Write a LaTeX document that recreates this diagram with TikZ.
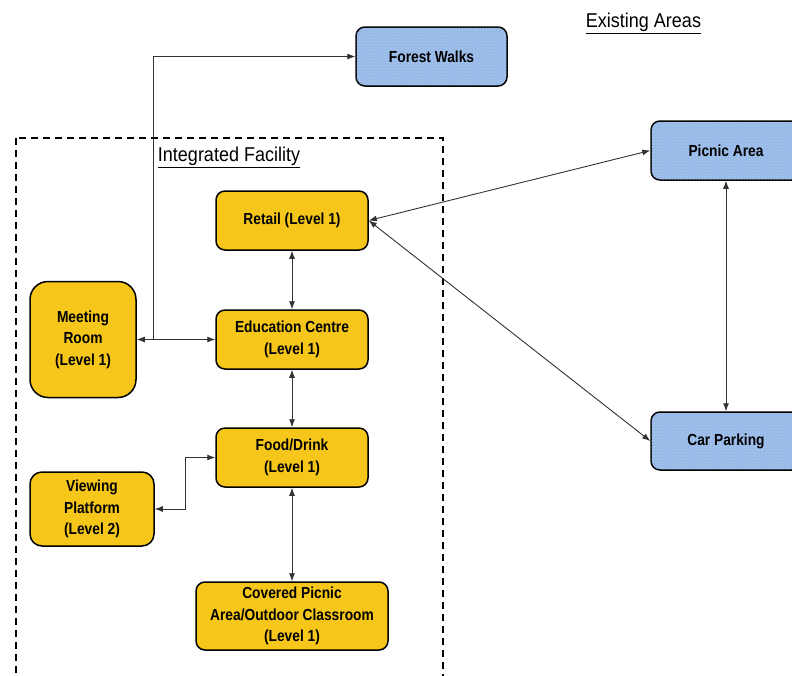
\documentclass[tikz,border=0pt]{standalone}
\usepackage{fontspec}
\setmainfont{Liberation Sans}[FakeStretch=0.9]
\newfontfamily\boxfont{Liberation Sans}[FakeStretch=0.86]
\usetikzlibrary{arrows.meta,patterns}
\definecolor{facfill}{RGB}{246,198,26}
\definecolor{areafill}{RGB}{152,186,232}
\definecolor{linkgray}{RGB}{50,50,50}
\tikzset{
  facility/.style={draw, line width=1.5pt, rounded corners=9pt, fill=facfill,
    font=\boxfont\bfseries\fontsize{16}{21.5}\selectfont, align=center, inner sep=0pt},
  existing/.style={draw, line width=1.5pt, rounded corners=9pt, fill=areafill,
    postaction={pattern=dots, pattern color=white!55!areafill},
    font=\boxfont\bfseries\fontsize{16}{21.5}\selectfont, align=center, inner sep=0pt},
  link/.style={draw=linkgray, line width=0.9pt, {Latex[length=8pt,width=6pt]}-{Latex[length=8pt,width=6pt]}},
  onelink/.style={draw=linkgray, line width=0.9pt, -{Latex[length=8pt,width=6pt]}},
  heading/.style={font=\fontsize{20}{22}\selectfont, inner sep=0pt}
}
\begin{document}
\begin{tikzpicture}[x=1pt,y=-1pt]
\useasboundingbox (0,0) rectangle (792,675);

% boundary of the integrated facility
\draw[line width=2pt, dash pattern=on 7pt off 5pt] (16,138) rectangle (443,700);
\node[heading] (intlab) at (229,157) {\underline{Integrated Facility}};
\node[heading] (extlab) at (643.5,23) {\underline{Existing Areas}};

% existing areas
\node[existing, minimum width=151pt, minimum height=59pt] (forest) at (431.5,56.5) {Forest Walks};
\node[existing, minimum width=150pt, minimum height=59pt] (picnic) at (726,150.5) {Picnic Area};
\node[existing, minimum width=150pt, minimum height=58pt] (car) at (726,441) {Car Parking};

% facility components
\node[facility, minimum width=152pt, minimum height=59pt] (retail) at (292,220.5) {Retail (Level 1)};
\node[facility, minimum width=152pt, minimum height=59pt] (edu) at (292,339.5) {Education Centre\\(Level 1)};
\node[facility, minimum width=106pt, minimum height=116pt, rounded corners=18pt] (meet) at (83,339.5) {Meeting\\Room\\(Level 1)};
\node[facility, minimum width=152pt, minimum height=59pt] (food) at (292,457.5) {Food/Drink\\(Level 1)};
\node[facility, minimum width=124pt, minimum height=74pt, rounded corners=12pt] (view) at (92,509) {Viewing\\Platform\\(Level 2)};
\node[facility, minimum width=192pt, minimum height=68pt] (cov) at (292,616) {Covered Picnic\\Area/Outdoor Classroom\\(Level 1)};

% connections
\coordinate (jn) at (153,339.5);
\draw[link] (meet.east) -- (edu.west);
\draw[onelink] (jn) |- (forest.west);
\draw[link] (retail.south) -- (edu.north);
\draw[link] (edu.south) -- (food.north);
\draw[link] (food.south) -- (cov.north);
\draw[link] (view.east) -- ([xshift=31pt]view.east) |- (food.west);
\draw[link] (retail.east) -- (picnic.west);
\draw[link] (retail.east) -- (car.west);
\draw[link] (picnic.south) -- (car.north);
\end{tikzpicture}
\end{document}
